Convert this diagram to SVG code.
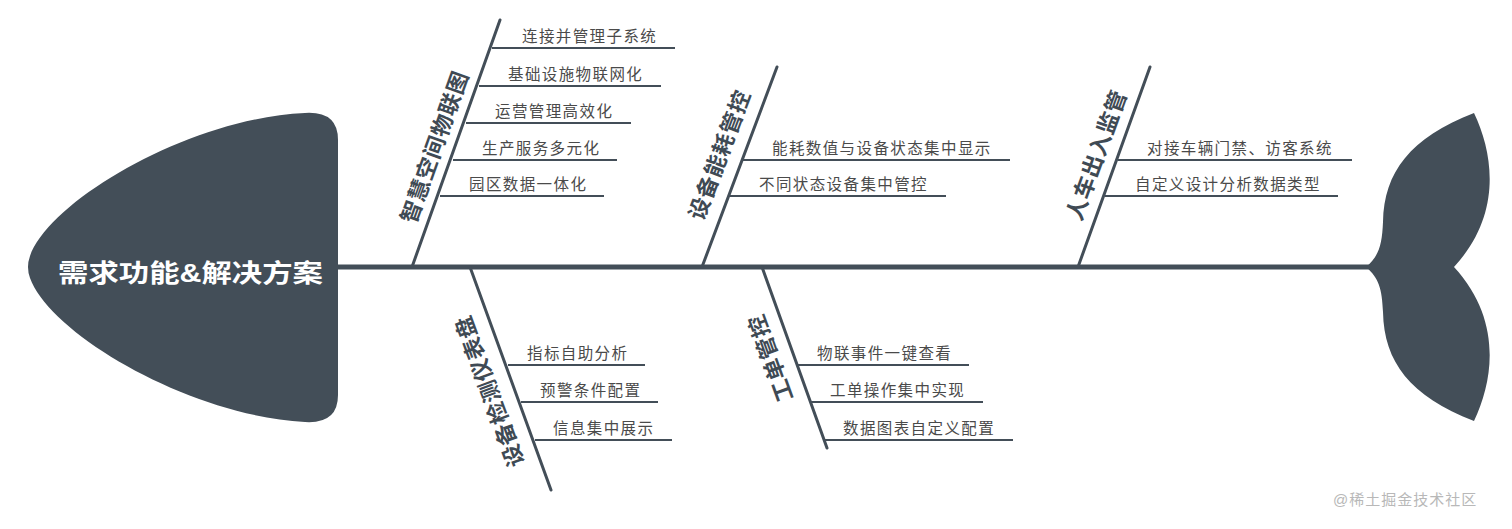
<svg xmlns="http://www.w3.org/2000/svg" width="1512" height="529" viewBox="0 0 1512 529">
<style>
.fill{fill:#434e58}
.spine{stroke:#434e58;stroke-width:5;fill:none}
.bone{stroke:#434e58;stroke-width:3;fill:none;stroke-linecap:round}
.sub{stroke:#434e58;stroke-width:2;fill:none}
.t{font-family:"Liberation Sans","Noto Sans CJK SC",sans-serif;font-size:15.5px;fill:#4a4a4a;letter-spacing:1.4px}
.lab{font-family:"Liberation Sans","Noto Sans CJK SC",sans-serif;font-size:22px;font-weight:bold;fill:#3f4a54;letter-spacing:0.8px}
.title{font-family:"Liberation Sans","Noto Sans CJK SC",sans-serif;font-size:25px;font-weight:bold;fill:#ffffff}
.wm{font-family:"Liberation Sans","Noto Sans CJK SC",sans-serif;font-size:15px;fill:#b8b8b8;letter-spacing:1px}
</style>
<rect width="1512" height="529" fill="#ffffff"/>
<g id="connectors">
<line class="spine" x1="336" y1="267" x2="1370" y2="267"/>
<line class="bone" x1="412" y1="267" x2="500" y2="20"/>
<line class="bone" x1="702" y1="267" x2="777" y2="67"/>
<line class="bone" x1="1078" y1="267" x2="1150" y2="67"/>
<line class="bone" x1="470" y1="267" x2="551" y2="490"/>
<line class="bone" x1="762" y1="267" x2="827" y2="448"/>
</g>
<g id="head">
<path class="fill" d="M305,113 C190,118 50,200 30,256 Q26,267 30,278 C50,334 190,416 305,422 Q338,424 338,395 L338,140 Q338,111 305,113 Z"/>
<text class="title" x="58" y="282" textLength="265" lengthAdjust="spacingAndGlyphs">需求功能&amp;解决方案</text>
</g>
<g id="tail">
<path class="fill" d="M1366,267 C1379,256 1382,245 1383,222 C1384,172 1410,138 1474,113 C1494,155 1502,215 1454,267 C1502,319 1494,379 1474,421 C1410,396 1384,362 1383,312 C1382,289 1379,278 1366,267 Z"/>
</g>
<g id="branch-1">
<text class="lab" x="435" y="147" text-anchor="middle" dominant-baseline="central" transform="rotate(-70.4 435 147)">智慧空间物联图</text>
<line class="sub" x1="492" y1="48" x2="675" y2="48"/>
<text class="t" x="522" y="42">连接并管理子系统</text>
<line class="sub" x1="479" y1="86" x2="661" y2="86"/>
<text class="t" x="508" y="80">基础设施物联网化</text>
<line class="sub" x1="466" y1="123" x2="631" y2="123"/>
<text class="t" x="495" y="117">运营管理高效化</text>
<line class="sub" x1="453" y1="160" x2="617" y2="160"/>
<text class="t" x="482" y="154">生产服务多元化</text>
<line class="sub" x1="440" y1="196" x2="604" y2="196"/>
<text class="t" x="469" y="190">园区数据一体化</text>
</g>
<g id="branch-2">
<text class="lab" x="720" y="155" text-anchor="middle" dominant-baseline="central" transform="rotate(-69.4 720 155)">设备能耗管控</text>
<line class="sub" x1="742" y1="160" x2="1010" y2="160"/>
<text class="t" x="772" y="154">能耗数值与设备状态集中显示</text>
<line class="sub" x1="729" y1="196" x2="946" y2="196"/>
<text class="t" x="759" y="190">不同状态设备集中管控</text>
</g>
<g id="branch-3">
<text class="lab" x="1097" y="155" text-anchor="middle" dominant-baseline="central" transform="rotate(-70.2 1097 155)">人车出入监管</text>
<line class="sub" x1="1118" y1="160" x2="1352" y2="160"/>
<text class="t" x="1147" y="154">对接车辆门禁、访客系统</text>
<line class="sub" x1="1105" y1="196" x2="1338" y2="196"/>
<text class="t" x="1135" y="190">自定义设计分析数据类型</text>
</g>
<g id="branch-4">
<text class="lab" x="490" y="391" text-anchor="middle" dominant-baseline="central" transform="rotate(-110.2 490 391)">设备检测仪表盘</text>
<line class="sub" x1="508" y1="365" x2="645" y2="365"/>
<text class="t" x="527" y="359">指标自助分析</text>
<line class="sub" x1="521" y1="402" x2="658" y2="402"/>
<text class="t" x="540" y="396">预警条件配置</text>
<line class="sub" x1="535" y1="440" x2="672" y2="440"/>
<text class="t" x="553" y="434">信息集中展示</text>
</g>
<g id="branch-5">
<text class="lab" x="771" y="358" text-anchor="middle" dominant-baseline="central" transform="rotate(-109.8 771 358)">工单管控</text>
<line class="sub" x1="798" y1="365" x2="969" y2="365"/>
<text class="t" x="817" y="359">物联事件一键查看</text>
<line class="sub" x1="810" y1="402" x2="983" y2="402"/>
<text class="t" x="830" y="396">工单操作集中实现</text>
<line class="sub" x1="825" y1="440" x2="1013" y2="440"/>
<text class="t" x="843" y="434">数据图表自定义配置</text>
</g>
<text class="wm" x="1333" y="505">@稀土掘金技术社区</text>
</svg>
